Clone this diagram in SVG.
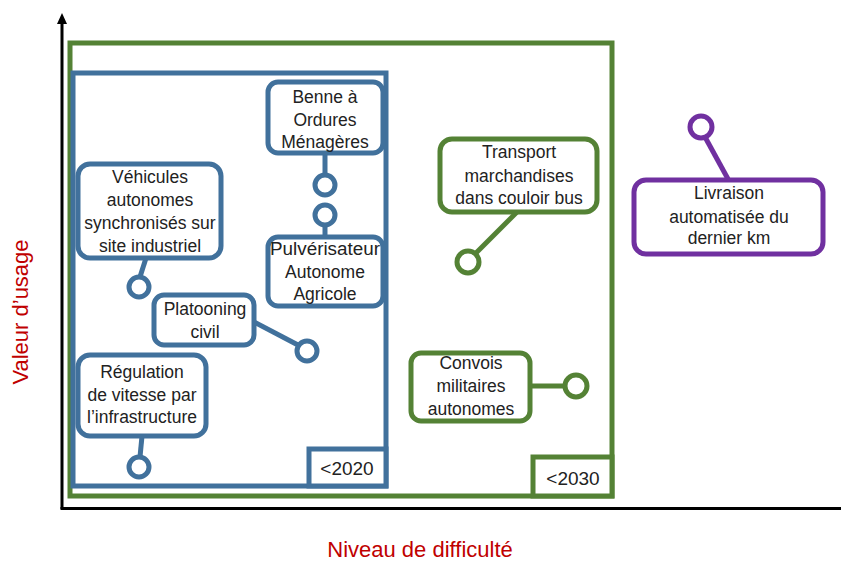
<svg xmlns="http://www.w3.org/2000/svg" width="841" height="561" viewBox="0 0 841 561">
<defs>
<style>
.t{font-family:"Liberation Sans",Arial,sans-serif;font-size:17.5px;fill:#222;text-anchor:middle}
.y{font-size:19px}
.lab{font-family:"Liberation Sans",Arial,sans-serif;font-size:22px;fill:#C00000;text-anchor:middle}
.b{fill:#fff;stroke:#41719C;stroke-width:5}
.g{fill:#fff;stroke:#548235;stroke-width:5}
.p{fill:#fff;stroke:#7030A0;stroke-width:5}
.lb{stroke:#41719C;stroke-width:5;fill:none}
.lg{stroke:#548235;stroke-width:5;fill:none}
.lp{stroke:#7030A0;stroke-width:5;fill:none}
.ax{stroke:#000;stroke-width:3;fill:none}
</style>
</defs>
<rect width="841" height="561" fill="#fff"/>
<g id="axes">
<line class="ax" x1="62" y1="22" x2="62" y2="509"/>
<polygon points="62,13 57,24 67,24" fill="#000"/>
<line class="ax" x1="60.5" y1="508.5" x2="841" y2="508.5"/>
<text class="lab" transform="translate(28,312) rotate(-90)">Valeur d’usage</text>
<text class="lab" x="420" y="557">Niveau de difficulté</text>
</g>
<g id="frame2030">
<rect x="70" y="43" width="542" height="453" fill="none" stroke="#548235" stroke-width="5"/>
<rect x="533" y="457" width="79" height="39" class="g"/>
<text class="t y" x="573" y="485">&lt;2030</text>
</g>
<g id="frame2020">
<rect x="73" y="73" width="313" height="413" fill="none" stroke="#41719C" stroke-width="5"/>
<rect x="309" y="449" width="77" height="37" class="b"/>
<text class="t y" x="347" y="475">&lt;2020</text>
</g>
<g id="connectors">
<line class="lb" x1="325" y1="153" x2="325" y2="176"/>
<line class="lb" x1="325" y1="225" x2="325" y2="238"/>
<line class="lb" x1="146" y1="258" x2="140" y2="277"/>
<line class="lb" x1="254" y1="322" x2="298" y2="345"/>
<line class="lb" x1="142" y1="436" x2="140" y2="457"/>
<line class="lg" x1="517" y1="212" x2="475" y2="254"/>
<line class="lg" x1="530" y1="386" x2="566" y2="386"/>
<line class="lp" x1="705" y1="137" x2="728" y2="179"/>
</g>
<g id="circles">
<circle class="b" cx="325" cy="185" r="10"/>
<circle class="b" cx="325" cy="215" r="10"/>
<circle class="b" cx="139" cy="287" r="10"/>
<circle class="b" cx="307" cy="351" r="10"/>
<circle class="b" cx="139" cy="467" r="10"/>
<circle class="g" cx="468" cy="262" r="11"/>
<circle class="g" cx="576" cy="386" r="11"/>
<circle class="p" cx="701" cy="127" r="11"/>
</g>
<g id="benne">
<rect class="b" x="268" y="82" width="115" height="71" rx="10"/>
<text class="t" x="325" y="103">Benne à</text>
<text class="t" x="325" y="126">Ordures</text>
<text class="t" x="325" y="148">Ménagères</text>
</g>
<g id="pulverisateur">
<rect class="b" x="268" y="237" width="115" height="69" rx="10"/>
<text class="t" x="325" y="255" textLength="110" lengthAdjust="spacingAndGlyphs">Pulvérisateur</text>
<text class="t" x="325" y="278">Autonome</text>
<text class="t" x="325" y="300">Agricole</text>
</g>
<g id="vehicules">
<rect class="b" x="78" y="164" width="143" height="94" rx="12"/>
<text class="t" x="150" y="183">Véhicules</text>
<text class="t" x="150" y="206">autonomes</text>
<text class="t" x="150" y="229">synchronisés sur</text>
<text class="t" x="150" y="252">site industriel</text>
</g>
<g id="platooning">
<rect class="b" x="154" y="295" width="100" height="50" rx="10"/>
<text class="t" x="205" y="315">Platooning</text>
<text class="t" x="205" y="338">civil</text>
</g>
<g id="regulation">
<rect class="b" x="78" y="355" width="128" height="81" rx="12"/>
<text class="t" x="142" y="378">Régulation</text>
<text class="t" x="142" y="401">de vitesse par</text>
<text class="t" x="142" y="423">l’infrastructure</text>
</g>
<g id="transport">
<rect class="g" x="440" y="139" width="157" height="73" rx="12"/>
<text class="t" x="519" y="158">Transport</text>
<text class="t" x="519" y="182">marchandises</text>
<text class="t" x="519" y="204">dans couloir bus</text>
</g>
<g id="convois">
<rect class="g" x="411" y="353" width="119" height="68" rx="10"/>
<text class="t" x="471" y="369">Convois</text>
<text class="t" x="471" y="392">militaires</text>
<text class="t" x="471" y="415">autonomes</text>
</g>
<g id="livraison">
<rect class="p" x="634" y="180" width="189" height="74" rx="12"/>
<text class="t" x="729" y="199">Livraison</text>
<text class="t" x="729" y="223">automatisée du</text>
<text class="t" x="729" y="244">dernier km</text>
</g>
</svg>
